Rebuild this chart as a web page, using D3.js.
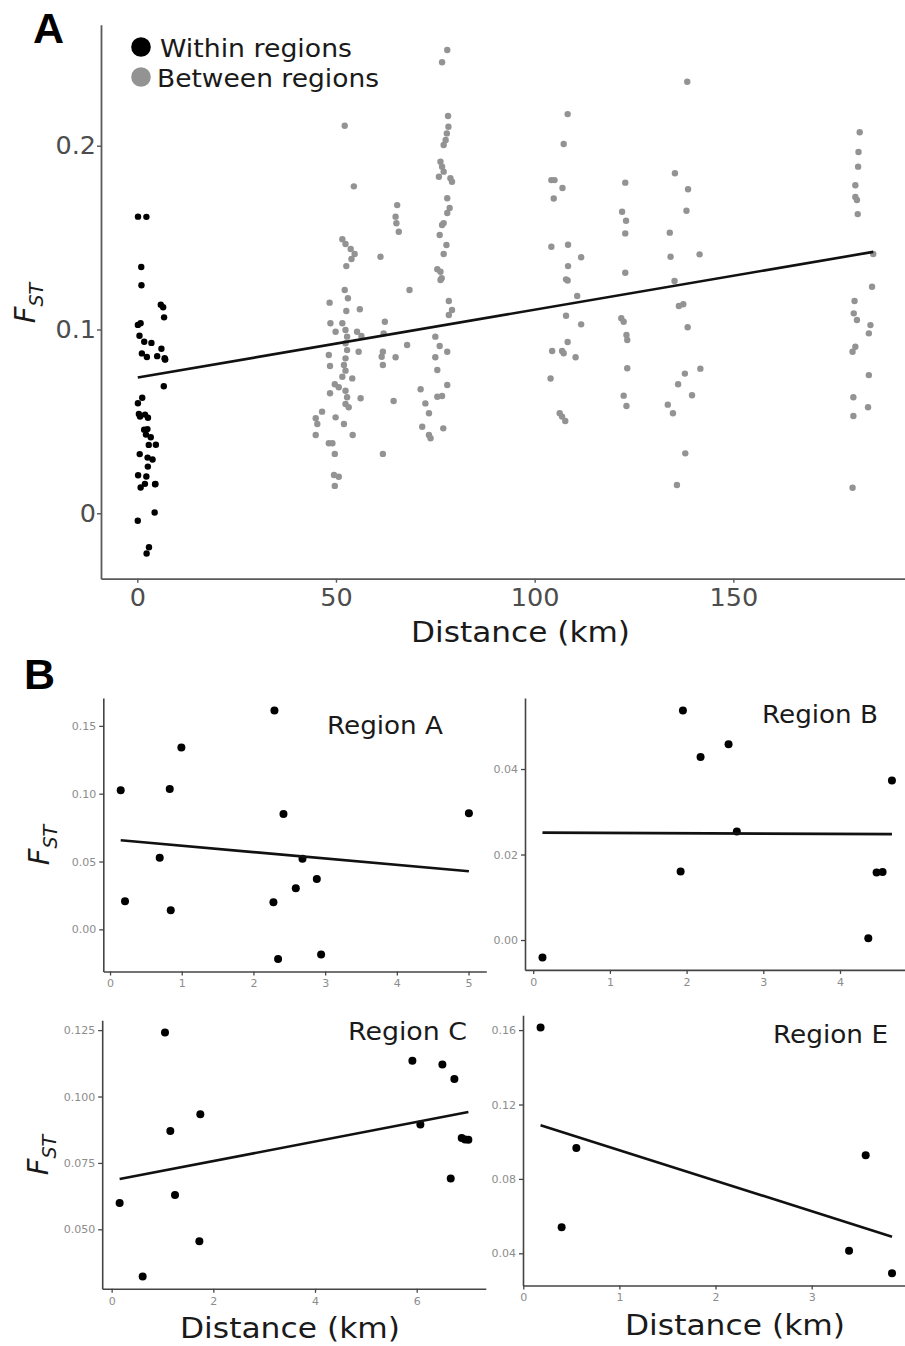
<!DOCTYPE html>
<html>
<head>
<meta charset="utf-8">
<script src="https://cdn.jsdelivr.net/npm/d3@7"></script>
<style>
  body { margin: 0; background: #fff; }
  svg { display: block; }
</style>
</head>
<body>
<svg id="fig" width="905" height="1346"></svg>
<script>
// ---- Within-region pairs (distance in km, pairwise FST) ----
const regionA_km  = [0.149, 0.209, 0.693, 0.833, 0.847, 0.995, 2.293, 2.419, 2.279, 2.344, 2.591, 2.684, 2.884, 2.944, 5.005];
const regionA_fst = [0.1025, 0.0207, 0.0527, 0.1034, 0.0140, 0.1340, 0.1613, 0.0850, 0.0200, -0.0219, 0.0303, 0.0520, 0.0372, -0.0185, 0.0855];

const regionB_km  = [0.121, 1.952, 2.182, 2.547, 2.655, 1.922, 4.369, 4.477, 4.555, 4.677];
const regionB_fst = [-0.0041, 0.0537, 0.0428, 0.0458, 0.0254, 0.0160, 0.0004, 0.0158, 0.0159, 0.0373];

const regionC_km  = [0.157, 0.610, 1.049, 1.154, 1.246, 1.744, 1.725, 5.915, 6.072, 6.505, 6.741, 6.669, 6.885, 6.951, 7.016];
const regionC_fst = [0.0599, 0.0322, 0.1241, 0.0870, 0.0629, 0.0933, 0.0455, 0.1135, 0.0895, 0.1121, 0.1066, 0.0691, 0.0844, 0.0838, 0.0837];

const regionE_km  = [0.180, 0.399, 0.552, 3.389, 3.562, 3.836];
const regionE_fst = [0.1614, 0.0540, 0.0966, 0.0414, 0.0927, 0.0293];

// ---- Between-region pairs, grouped by region-pair distance ----
const between50_km  = [52.2, 54.5, 51.6, 52.4, 53.7, 54.7, 53.9, 52.6, 52.2, 53.0, 48.4, 52.6, 56.0, 48.6, 51.6, 49.9, 52.4, 52.8, 55.3, 56.4, 52.4, 52.8, 55.7, 48.2, 52.4, 52.0, 48.5, 52.4, 51.6, 54.1, 49.7, 50.7, 52.4, 48.5, 52.8, 56.2, 52.4, 53.2, 46.5, 44.9, 49.9, 45.3, 52.0, 44.9, 54.2, 48.2, 49.1, 49.7, 49.5, 50.7, 49.7];
const between50_fst = [0.2109, 0.1779, 0.1491, 0.1465, 0.1438, 0.1411, 0.1384, 0.1345, 0.1215, 0.1170, 0.1146, 0.1101, 0.1110, 0.1034, 0.1034, 0.0988, 0.0997, 0.0961, 0.0988, 0.0965, 0.0925, 0.0888, 0.0879, 0.0861, 0.0843, 0.0807, 0.0801, 0.0776, 0.0743, 0.0734, 0.0702, 0.0686, 0.0667, 0.0653, 0.0631, 0.0626, 0.0595, 0.0577, 0.0553, 0.0517, 0.0522, 0.0486, 0.0486, 0.0426, 0.0426, 0.0381, 0.0381, 0.0323, 0.0208, 0.0199, 0.0149];

const between65_km  = [65.4, 65.0, 65.2, 65.8, 61.2, 68.5, 62.3, 62.0, 61.8, 61.5, 61.8, 65.0, 67.9, 64.5, 61.8];
const between65_fst = [0.1677, 0.1614, 0.1578, 0.1532, 0.1396, 0.1215, 0.1042, 0.0979, 0.0879, 0.0852, 0.0807, 0.0849, 0.0916, 0.0611, 0.0323];

const between75_km  = [78.0, 76.7, 78.2, 78.3, 77.9, 77.6, 77.1, 76.3, 76.7, 77.1, 75.9, 78.8, 79.2, 78.0, 78.6, 78.0, 77.1, 76.7, 76.1, 77.8, 77.1, 75.5, 76.3, 76.6, 76.3, 78.4, 79.2, 78.4, 75.0, 76.1, 78.0, 75.0, 75.5, 78.0, 75.5, 76.7, 71.3, 72.5, 73.4, 71.7, 73.4, 73.8, 77.0];
const between75_fst = [0.2521, 0.2454, 0.2162, 0.2103, 0.2067, 0.2031, 0.2004, 0.1913, 0.1886, 0.1859, 0.1831, 0.1823, 0.1804, 0.1714, 0.1661, 0.1634, 0.1579, 0.1569, 0.1514, 0.1460, 0.1411, 0.1328, 0.1314, 0.1279, 0.1269, 0.1155, 0.1106, 0.1079, 0.0961, 0.0910, 0.0879, 0.0849, 0.0780, 0.0698, 0.0634, 0.0638, 0.0675, 0.0598, 0.0544, 0.0471, 0.0426, 0.0408, 0.0462];

const between105_km  = [108.3, 107.3, 104.2, 105.0, 107.0, 104.8, 104.2, 108.4, 111.7, 108.4, 107.9, 108.3, 110.7, 107.9, 111.7, 108.3, 104.4, 106.9, 107.3, 110.3, 104.0, 106.3, 106.9, 107.7];
const between105_fst = [0.2172, 0.2009, 0.1813, 0.1813, 0.1770, 0.1713, 0.1450, 0.1461, 0.1393, 0.1345, 0.1273, 0.1267, 0.1182, 0.1075, 0.1028, 0.0932, 0.0883, 0.0883, 0.0871, 0.0849, 0.0733, 0.0544, 0.0526, 0.0502];

const between122_km  = [122.8, 122.0, 123.0, 122.8, 122.8, 121.8, 122.4, 123.1, 123.3, 123.3, 122.4, 123.1];
const between122_fst = [0.1799, 0.1641, 0.1592, 0.1523, 0.1309, 0.1061, 0.1042, 0.0970, 0.0943, 0.0789, 0.0640, 0.0584];

const between138_km  = [138.4, 135.3, 138.6, 138.2, 134.0, 134.2, 141.5, 135.2, 136.3, 137.4, 138.5, 141.7, 137.8, 136.1, 139.6, 133.5, 134.8, 137.9, 135.8];
const between138_fst = [0.2348, 0.1850, 0.1763, 0.1646, 0.1527, 0.1396, 0.1409, 0.1264, 0.1128, 0.1137, 0.1012, 0.0787, 0.0760, 0.0702, 0.0642, 0.0591, 0.0544, 0.0326, 0.0154];

const between185_km  = [181.8, 181.5, 181.4, 180.7, 180.7, 181.1, 181.3, 185.2, 184.9, 180.5, 180.3, 181.1, 184.5, 184.1, 180.7, 180.0, 184.1, 180.2, 183.9, 180.2, 180.0];
const between185_fst = [0.2073, 0.1966, 0.1886, 0.1785, 0.1721, 0.1705, 0.1628, 0.1411, 0.1233, 0.1155, 0.1088, 0.1052, 0.1024, 0.0979, 0.0906, 0.0879, 0.0752, 0.0631, 0.0577, 0.0529, 0.0139];

// ---- Tick values ----
const ticksA_x = [0, 50, 100, 150];
const ticksA_y = [0, 0.1, 0.2];
const ticksA_yLabels = ["0", "0.1", "0.2"];
const ticksRegA_x = [0, 1, 2, 3, 4, 5];
const ticksRegA_y = [0.00, 0.05, 0.10, 0.15];
const ticksRegB_x = [0, 1, 2, 3, 4];
const ticksRegB_y = [0.00, 0.02, 0.04];
const ticksRegC_x = [0, 2, 4, 6];
const ticksRegC_y = [0.050, 0.075, 0.100, 0.125];
const ticksRegE_x = [0, 1, 2, 3];
const ticksRegE_y = [0.04, 0.08, 0.12, 0.16];

const legendLabels = ["Within regions", "Between regions"];
const colWithin = "#000000";
const colBetween = "#939393";

// ---- helpers ----
const zip = (xs, ys) => xs.map((x, i) => ({ x, y: ys[i] }));

// ggplot-style 5% expansion of the data range
function expand(vals) {
  const [lo, hi] = d3.extent(vals);
  const pad = (hi - lo) * 0.05;
  return [lo - pad, hi + pad];
}

// ordinary least squares fit, returned as a function
function lmFit(pts) {
  const mx = d3.mean(pts, d => d.x), my = d3.mean(pts, d => d.y);
  let sxy = 0, sxx = 0;
  pts.forEach(d => { sxy += (d.x - mx) * (d.y - my); sxx += (d.x - mx) ** 2; });
  const b = sxy / sxx, a = my - b * mx;
  return x => a + b * x;
}

const svg = d3.select("#fig");
const FONT = "DejaVu Sans, Verdana, sans-serif";

// wide-set label text (Verdana-like proportions)
function wideText(g, x, y, str, size, width, anchor) {
  return g.append("text").attr("x", x).attr("y", y)
    .attr("text-anchor", anchor || "start")
    .attr("font-family", FONT).attr("font-size", size).attr("fill", "#1a1a1a")
    .attr("textLength", width).attr("lengthAdjust", "spacingAndGlyphs")
    .text(str);
}

function fstLabel(g, x, y, size) {
  const t = g.append("text")
    .attr("transform", `translate(${x},${y}) rotate(-90)`)
    .attr("text-anchor", "middle")
    .attr("font-family", FONT)
    .attr("font-size", size)
    .attr("fill", "#1a1a1a");
  t.append("tspan").attr("font-style", "italic").text("F");
  t.append("tspan").attr("font-style", "italic").attr("font-size", size * 0.66).attr("dy", size * 0.28).text("ST");
}

function styleAxis(sel, opts) {
  sel.select(".domain").attr("stroke", opts.axisColor).attr("stroke-width", opts.axisWidth);
  sel.selectAll(".tick line").attr("stroke", opts.axisColor).attr("stroke-width", opts.axisWidth * 0.8);
  sel.selectAll(".tick text")
    .attr("font-family", FONT)
    .attr("font-size", opts.tickSize)
    .attr("fill", opts.tickColor);
}

// ================= Panel A =================
const withinAll = [].concat(
  zip(regionA_km, regionA_fst), zip(regionB_km, regionB_fst),
  zip(regionC_km, regionC_fst), zip(regionE_km, regionE_fst));
const betweenAll = [].concat(
  zip(between50_km, between50_fst), zip(between65_km, between65_fst),
  zip(between75_km, between75_fst), zip(between105_km, between105_fst),
  zip(between122_km, between122_fst), zip(between138_km, between138_fst),
  zip(between185_km, between185_fst));
const allA = withinAll.concat(betweenAll);

const boxA = { left: 101, right: 910, top: 24.8, bottom: 578.7 };
const xA = d3.scaleLinear().domain(expand(allA.map(d => d.x))).range([boxA.left, boxA.right]);
const yA = d3.scaleLinear().domain(expand(allA.map(d => d.y))).range([boxA.bottom, boxA.top]);

const gA = svg.append("g");
const axOptsA = { axisColor: "#5a5a5a", axisWidth: 1.8, tickSize: 25.5, tickColor: "#4d4d4d" };

gA.append("g").attr("transform", `translate(0,${boxA.bottom})`)
  .call(d3.axisBottom(xA).tickValues(ticksA_x).tickFormat(d3.format("d")).tickSize(4).tickSizeOuter(0).tickPadding(5))
  .call(s => styleAxis(s, axOptsA));
gA.append("g").attr("transform", `translate(${boxA.left},0)`)
  .call(d3.axisLeft(yA).tickValues(ticksA_y).tickFormat((d, i) => ticksA_yLabels[i]).tickSize(4).tickSizeOuter(0).tickPadding(1))
  .call(s => styleAxis(s, axOptsA));

gA.append("g").selectAll("circle").data(betweenAll).join("circle")
  .attr("cx", d => xA(d.x)).attr("cy", d => yA(d.y)).attr("r", 3.2).attr("fill", colBetween);
gA.append("g").selectAll("circle").data(withinAll).join("circle")
  .attr("cx", d => xA(d.x)).attr("cy", d => yA(d.y)).attr("r", 3.2).attr("fill", colWithin);

const fitA = lmFit(allA);
const xrA = d3.extent(allA, d => d.x);
gA.append("line")
  .attr("x1", xA(xrA[0])).attr("y1", yA(fitA(xrA[0])))
  .attr("x2", xA(xrA[1])).attr("y2", yA(fitA(xrA[1])))
  .attr("stroke", "#111").attr("stroke-width", 2.6);

// legend
const legend = gA.append("g");
[colWithin, colBetween].forEach((c, i) => {
  legend.append("circle").attr("cx", 141).attr("cy", 47 + i * 30).attr("r", 9.8).attr("fill", c);
});
wideText(legend, 160, 57, legendLabels[0], 25, 192);
wideText(legend, 157, 87, legendLabels[1], 25, 222);

wideText(gA, 411, 642, "Distance (km)", 28, 219);
fstLabel(gA, 35, 303, 29);

svg.append("text").attr("x", 33).attr("y", 43)
  .attr("font-family", "Liberation Sans, Arial, sans-serif").attr("font-weight", "bold")
  .attr("font-size", 43).attr("fill", "#000").text("A");
svg.append("text").attr("x", 24).attr("y", 689)
  .attr("font-family", "Liberation Sans, Arial, sans-serif").attr("font-weight", "bold")
  .attr("font-size", 43).attr("fill", "#000").text("B");

// ================= Panel B: one scatter per region =================
const regions = [
  { name: "Region A", km: regionA_km, fst: regionA_fst, xt: ticksRegA_x, yt: ticksRegA_y, yfmt: ".2f",
    box: { left: 103.3, right: 486.3, top: 698.1, bottom: 971.5 }, title: { x: 327, y: 734, w: 116 } },
  { name: "Region B", km: regionB_km, fst: regionB_fst, xt: ticksRegB_x, yt: ticksRegB_y, yfmt: ".2f",
    box: { left: 525, right: 909.4, top: 698.1, bottom: 969.9 }, title: { x: 762, y: 723, w: 116 } },
  { name: "Region C", km: regionC_km, fst: regionC_fst, xt: ticksRegC_x, yt: ticksRegC_y, yfmt: ".3f",
    box: { left: 102.2, right: 485.8, top: 1020.3, bottom: 1288.8 }, title: { x: 348, y: 1040, w: 119 } },
  { name: "Region E", km: regionE_km, fst: regionE_fst, xt: ticksRegE_x, yt: ticksRegE_y, yfmt: ".2f",
    box: { left: 523, right: 909.6, top: 1015.2, bottom: 1285.5 }, title: { x: 773, y: 1043, w: 115 } }
];

const axOptsB = { axisColor: "#444", axisWidth: 1.6, tickSize: 11, tickColor: "#8c8c8c" };

regions.forEach(r => {
  const pts = zip(r.km, r.fst);
  const b = r.box;
  const x = d3.scaleLinear().domain(expand(r.km)).range([b.left, b.right]);
  const y = d3.scaleLinear().domain(expand(r.fst)).range([b.bottom, b.top]);
  const g = svg.append("g");

  g.append("g").attr("transform", `translate(0,${b.bottom})`)
    .call(d3.axisBottom(x).tickValues(r.xt).tickFormat(d3.format("d")).tickSize(4).tickSizeOuter(0).tickPadding(4))
    .call(s => styleAxis(s, axOptsB));
  g.append("g").attr("transform", `translate(${b.left},0)`)
    .call(d3.axisLeft(y).tickValues(r.yt).tickFormat(d3.format(r.yfmt)).tickSize(4).tickSizeOuter(0).tickPadding(3))
    .call(s => styleAxis(s, axOptsB));

  g.append("g").selectAll("circle").data(pts).join("circle")
    .attr("cx", d => x(d.x)).attr("cy", d => y(d.y)).attr("r", 4).attr("fill", "#000");

  const fit = lmFit(pts);
  const xr = d3.extent(r.km);
  g.append("line")
    .attr("x1", x(xr[0])).attr("y1", y(fit(xr[0])))
    .attr("x2", x(xr[1])).attr("y2", y(fit(xr[1])))
    .attr("stroke", "#111").attr("stroke-width", 2.6);

  wideText(g, r.title.x, r.title.y, r.name, 24, r.title.w);
});

fstLabel(svg, 49, 845, 29);
fstLabel(svg, 48, 1155, 29);
wideText(svg, 180, 1338, "Distance (km)", 28, 220);
wideText(svg, 625, 1335, "Distance (km)", 28, 220);
</script>
</body>
</html>
